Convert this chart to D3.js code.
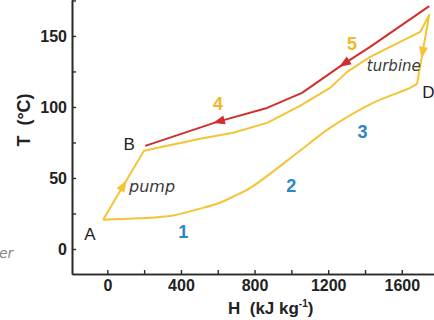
<!DOCTYPE html>
<html>
<head>
<meta charset="utf-8">
<script src="https://cdn.jsdelivr.net/npm/d3@7"></script>
<style>
  html, body { margin: 0; padding: 0; background: #fff; }
  svg { display: block; }
  text { white-space: pre; }
</style>
</head>
<body>
<svg id="chart" width="434" height="320"></svg>
<script>
// ---- data (H in kJ/kg, T in °C) ----
const cycleH = [-23, 199, 504, 683, 868, 1047, 1210, 1303, 1428, 1700, 1749, 1683, 1645, 1444, 1210, 1047, 786, 683, 612, 504, 357, 178, -23];
const cycleT = [20.6, 69.1, 77.6, 81.8, 88.8, 100.8, 113.4, 124.7, 135.2, 152.8, 164.8, 116.2, 113.4, 102.9, 85.3, 69.2, 43.8, 36.8, 32.6, 28.4, 23.6, 21.6, 20.6];
const sourceH = [206, 597, 868, 1058, 1276, 1428, 1749];
const sourceT = [72.6, 89.5, 99.3, 109.9, 129.6, 142.3, 171];
const xTicks = [0, 400, 800, 1200, 1600];
const xMinorTicks = [200, 600, 1000, 1400];
const yTicks = [0, 50, 100, 150];
const yMinorTicks = [25, 75, 125, 175];
// point labels: name, H, T (baseline)
const pointNames = ["A", "B", "D"];
const pointH = [-94, 118, 1745];
const pointT = [6.5, 69.8, 106.4];
const stageNames = ["1", "2", "3", "4", "5"];
const stageH = [412, 1000, 1387, 602, 1330];
const stageT = [8, 40, 78, 98, 140];
const stepNames = ["pump", "turbine"];
const stepH = [118, 1410];
const stepT = [40, 125];

// ---- scales ----
const x = d3.scaleLinear().domain([-192, 1775]).range([72, 434]);
const y = d3.scaleLinear().domain([-17.6, 175.3]).range([274, 0]);
const svg = d3.select("#chart");

const YELLOW = "#f3c435", RED = "#d0302c", BLUE = "#2b86c5", AXIS = "#2a2a2a";

// ---- axes ----
function styleAxis(g) {
  g.select(".domain").attr("stroke", AXIS).attr("stroke-width", 1.6);
  g.selectAll(".tick line").attr("stroke", AXIS).attr("stroke-width", 1.4);
  g.selectAll(".tick text").attr("fill", "#222")
    .attr("font-family", "'Liberation Sans', Arial, sans-serif")
    .attr("font-size", 16).attr("font-weight", "bold");
}
svg.append("g").attr("transform", "translate(0,274)")
  .call(d3.axisBottom(x).tickValues(xTicks).tickFormat(d3.format("d")).tickSizeInner(-4).tickSizeOuter(0).tickPadding(6))
  .call(styleAxis);
svg.append("g").attr("transform", "translate(0,274)")
  .call(d3.axisBottom(x).tickValues(xMinorTicks).tickFormat("").tickSizeInner(-4).tickSizeOuter(0))
  .call(styleAxis);
svg.append("g").attr("transform", "translate(72,0)")
  .call(d3.axisLeft(y).tickValues(yTicks).tickFormat(d3.format("d")).tickSizeInner(-4).tickSizeOuter(0).tickPadding(5))
  .call(styleAxis);
svg.append("g").attr("transform", "translate(72,0)")
  .call(d3.axisLeft(y).tickValues(yMinorTicks).tickFormat("").tickSizeInner(-4).tickSizeOuter(0))
  .call(styleAxis);

// axis titles
svg.append("text")
  .attr("transform", "translate(30,120) rotate(-90)")
  .attr("text-anchor", "middle")
  .attr("font-family", "'Liberation Sans', Arial, sans-serif")
  .attr("font-size", 18).attr("font-weight", "bold").attr("fill", "#222")
  .text("T  (°C)");
const xt = svg.append("text")
  .attr("x", 228).attr("y", 314)
  .attr("font-family", "'Liberation Sans', Arial, sans-serif")
  .attr("font-size", 17).attr("font-weight", "bold").attr("fill", "#222");
xt.append("tspan").text("H  (kJ kg");
xt.append("tspan").attr("dy", -7).attr("font-size", 10).text("-1");
xt.append("tspan").attr("dy", 7).text(")");

// ---- lines ----
const line = d3.line().x(d => x(d[0])).y(d => y(d[1]));
const smooth = d3.line().x(d => x(d[0])).y(d => y(d[1])).curve(d3.curveCatmullRom.alpha(0.5));
const cyclePts = cycleH.map((h, i) => [h, cycleT[i]]);
const sourcePts = sourceH.map((h, i) => [h, sourceT[i]]);
const dIndex = 11; // point D: start of the heat-rejection branch

svg.append("path").attr("d", line(cyclePts.slice(0, dIndex + 1)))
  .attr("fill", "none").attr("stroke", YELLOW).attr("stroke-width", 2).attr("stroke-linejoin", "round");
svg.append("path").attr("d", smooth(cyclePts.slice(dIndex)))
  .attr("fill", "none").attr("stroke", YELLOW).attr("stroke-width", 2).attr("stroke-linejoin", "round");
svg.append("path").attr("d", line(sourcePts))
  .attr("fill", "none").attr("stroke", RED).attr("stroke-width", 2).attr("stroke-linejoin", "round");

// ---- arrows ----
function arrow(pts, seg, frac, reverse, color) {
  const p0 = [x(pts[seg][0]), y(pts[seg][1])];
  const p1 = [x(pts[seg + 1][0]), y(pts[seg + 1][1])];
  const px = p0[0] + (p1[0] - p0[0]) * frac, py = p0[1] + (p1[1] - p0[1]) * frac;
  let ang = Math.atan2(p1[1] - p0[1], p1[0] - p0[0]) * 180 / Math.PI;
  if (reverse) ang += 180;
  svg.append("path").attr("d", "M6,0 L-6,-4.5 L-6,4.5 Z")
    .attr("fill", color)
    .attr("transform", `translate(${px},${py}) rotate(${ang})`);
}
arrow(sourcePts, 1, 0.03, true, RED);
arrow(sourcePts, 4, 0.07, true, RED);
arrow(cyclePts, 0, 0.5, false, YELLOW);
arrow(cyclePts, 10, 0.55, false, YELLOW);

// ---- labels ----
svg.selectAll(".pname").data(pointNames).enter().append("text")
  .attr("x", (d, i) => x(pointH[i])).attr("y", (d, i) => y(pointT[i]))
  .attr("text-anchor", "middle")
  .attr("font-family", "'Liberation Sans', Arial, sans-serif")
  .attr("font-size", 17).attr("fill", "#222").text(d => d);

svg.selectAll(".sname").data(stageNames).enter().append("text")
  .attr("x", (d, i) => x(stageH[i])).attr("y", (d, i) => y(stageT[i]))
  .attr("text-anchor", "middle")
  .attr("font-family", "'Liberation Sans', Arial, sans-serif")
  .attr("font-size", 18).attr("font-weight", "bold")
  .attr("fill", (d, i) => i < 3 ? BLUE : "#f2b827").text(d => d);

svg.selectAll(".step").data(stepNames).enter().append("text")
  .attr("x", (d, i) => x(stepH[i])).attr("y", (d, i) => y(stepT[i]))
  .attr("font-family", "'DejaVu Sans', sans-serif")
  .attr("font-style", "italic")
  .attr("font-size", (d, i) => i === 0 ? 16 : 15).attr("fill", "#3a3a3a").text(d => d);

// cut-off text at left edge
svg.append("text").attr("x", -1).attr("y", 258)
  .attr("font-family", "'DejaVu Sans', sans-serif").attr("font-style", "italic")
  .attr("font-size", 14).attr("fill", "#888").text("er");
</script>
</body>
</html>
